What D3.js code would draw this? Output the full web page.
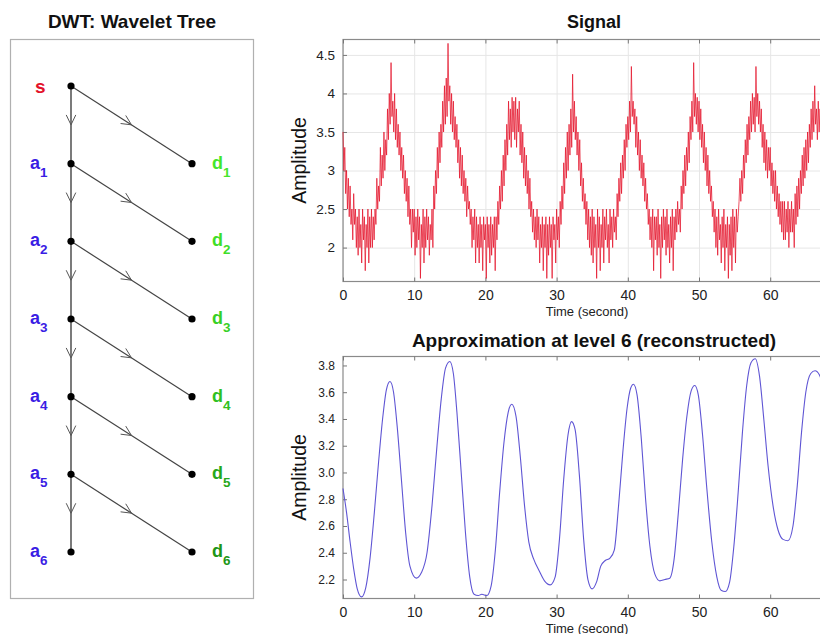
<!DOCTYPE html>
<html>
<head>
<meta charset="utf-8">
<script src="https://cdn.jsdelivr.net/npm/d3@7"></script>
<style>
body{margin:0;background:#fff;}
svg{font-family:"Liberation Sans",Arial,sans-serif;}
</style>
</head>
<body>
<svg id="chart" width="820" height="634"></svg>
<script>
// wavelet tree : levels and colors of the detail labels
var levels=[1,2,3,4,5,6];
var dColors=["#45e62a","#3fde28","#38d024","#30c021","#28a81b","#209616"];

// noisy signal, one value every 0.125 s, one row per second
var signalStep=0.125;
var signal=[
3.5,3.0,3.3,2.7,3.0,2.5,2.9,2.4, 2.8,2.3,2.5,2.1,2.7,2.3,2.5,2.0, 2.4,1.9,2.5,2.0,2.3,1.8,2.5,2.1, 2.4,1.7,2.3,2.0,2.5,1.8,2.4,2.0,
2.5,2.0,2.4,2.1,2.5,2.3,2.9,2.5, 2.8,2.6,3.3,2.8,3.2,2.9,3.5,3.0, 3.4,3.2,3.8,3.4,4.0,3.6,4.4,3.7, 3.9,3.5,4.0,3.4,3.8,3.3,3.6,3.2,
3.5,3.0,3.3,2.9,3.2,2.7,3.0,2.6, 2.9,2.4,2.8,2.3,2.5,2.0,2.5,2.2, 2.5,1.9,2.4,2.0,2.5,2.1,2.4,1.6, 2.3,2.0,2.5,1.8,2.4,2.0,2.5,2.1,
2.4,1.9,2.3,2.1,2.5,2.0,2.8,2.5, 3.0,2.7,3.3,2.9,3.5,3.1,3.6,3.3, 3.9,3.5,4.1,3.6,4.2,3.7,4.65,3.9, 4.1,3.6,4.0,3.5,3.9,3.4,3.7,3.3,
3.6,3.1,3.4,2.9,3.3,2.8,3.2,2.7, 3.0,2.6,2.9,2.4,2.8,2.5,2.6,2.3, 2.5,2.0,2.4,2.1,2.5,1.8,2.4,2.0, 2.3,1.8,2.4,2.0,2.3,1.7,2.4,2.1,
2.3,1.6,2.4,2.0,2.3,1.8,2.4,1.9, 2.3,2.0,2.4,1.7,2.4,2.1,2.6,2.3, 2.8,2.5,3.0,2.6,3.2,2.8,3.4,3.0, 3.6,3.2,3.9,3.4,3.8,3.3,3.95,3.5,
3.9,3.4,3.95,3.3,3.8,3.5,3.9,3.2, 3.6,3.1,3.5,2.9,3.3,2.8,3.2,2.7, 3.0,2.5,2.9,2.4,2.6,2.2,2.5,2.1, 2.4,2.0,2.5,2.1,2.4,1.8,2.3,2.0,
2.4,1.7,2.3,2.0,2.4,1.6,2.3,1.9, 2.4,2.0,2.3,1.6,2.4,2.1,2.3,1.8, 2.5,2.1,2.4,2.0,2.6,2.3,2.8,2.5, 3.1,2.7,3.3,2.9,3.5,3.0,3.6,3.2,
3.8,3.3,4.25,3.5,3.9,3.4,3.7,3.2, 3.5,3.0,3.4,2.8,3.1,2.6,2.9,2.5, 2.7,2.3,2.6,2.1,2.5,2.0,2.4,1.9, 2.5,1.8,2.4,2.0,2.3,1.6,2.5,2.0,
2.4,1.7,2.3,2.0,2.5,1.8,2.4,2.1, 2.5,2.0,2.3,1.8,2.5,2.1,2.4,2.0, 2.5,2.2,2.4,2.1,2.7,2.4,2.9,2.6, 3.1,2.7,3.2,2.9,3.4,3.0,3.6,3.3,
3.7,3.4,3.9,3.5,4.35,3.7,3.9,3.6, 3.8,3.3,3.7,3.2,3.5,3.0,3.4,2.9, 3.2,2.8,3.1,2.6,2.9,2.5,2.7,2.3, 2.5,2.1,2.4,2.0,2.5,1.7,2.4,2.1,
2.4,1.9,2.5,2.0,2.3,1.6,2.4,2.0, 2.5,2.1,2.4,1.9,2.5,2.0,2.3,1.8, 2.4,2.0,2.5,1.7,2.4,2.1,2.5,2.2, 2.6,2.3,2.5,2.2,2.8,2.5,3.0,2.7,
3.2,2.8,3.3,3.0,3.5,3.1,3.7,3.4, 3.9,3.5,4.4,3.7,4.0,3.6,3.95,3.5, 3.9,3.4,3.8,3.3,3.6,3.1,3.5,3.0, 3.3,2.8,3.2,2.7,3.0,2.6,2.8,2.4,
2.6,2.2,2.5,2.0,2.4,1.9,2.5,2.1, 2.3,1.8,2.4,2.0,2.5,1.7,2.3,2.0, 2.4,1.6,2.3,1.9,2.4,1.7,2.5,2.0, 2.4,1.8,2.5,2.2,2.4,2.6,2.9,2.6,
3.0,2.7,3.2,2.9,3.4,3.1,3.6,3.2, 3.7,3.4,3.9,3.5,4.0,3.6,3.95,3.5, 4.35,3.7,4.0,3.6,3.9,3.5,3.8,3.3, 3.6,3.1,3.5,3.0,3.4,2.9,3.3,3.0,
3.3,2.8,3.1,2.7,3.0,2.6,3.0,2.5, 2.8,2.4,2.7,2.3,2.6,2.2,2.6,2.1, 2.6,2.1,2.5,2.2,2.6,2.0,2.5,2.2, 2.6,2.2,2.5,2.0,2.7,2.3,2.8,2.4,
2.9,2.5,3.0,2.7,3.2,2.8,3.3,2.9, 3.4,3.0,3.5,3.1,3.6,3.3,3.8,3.4, 3.9,3.5,4.1,3.6,3.8,3.4,3.9,3.5, 3.8,3.3,3.7,3.2,3.9,3.4,3.6,3.1
];

// level 6 approximation : time (s) and amplitude
var approxTime=[0,0.5,1,1.5,2,2.6,3.2,3.8,4.4,5,5.6,6.1,6.6,7.1,7.6,8.2,8.8,9.4,10.3,11,
11.8,12.5,13.2,13.8,14.4,15,15.5,16,16.6,17.2,17.8,18.4,19,19.5,20.2,20.8,21.4,22,22.6,23.2,
23.7,24.3,24.9,25.5,26.1,26.8,27.6,28.3,29.1,29.8,30.4,31,31.6,32.1,32.6,33.2,33.8,34.4,35,35.6,
36.2,36.8,37.5,38.1,38.7,39.3,39.9,40.4,40.8,41.3,41.9,42.5,43.1,43.8,44.5,45.2,45.9,46.5,47.1,47.7,
48.3,48.9,49.4,49.9,50.5,51.1,51.8,52.5,53.1,53.7,54.3,54.9,55.5,56.1,56.7,57.3,57.9,58.5,59.1,59.7,
60.4,61.1,61.8,62.5,63.2,63.8,64.4,65,65.7,66.3,66.9,67.5,68];
var approxValue=[2.88,2.70,2.48,2.28,2.13,2.07,2.14,2.36,2.70,3.08,3.42,3.62,3.68,3.60,3.35,2.95,2.55,2.30,2.21,2.25,
2.40,2.75,3.20,3.55,3.78,3.83,3.74,3.45,3.00,2.55,2.22,2.09,2.08,2.09,2.08,2.15,2.42,2.85,3.22,3.45,
3.51,3.42,3.12,2.75,2.48,2.35,2.26,2.19,2.16,2.22,2.50,2.95,3.28,3.38,3.32,2.98,2.50,2.20,2.13,2.18,
2.30,2.34,2.36,2.42,2.75,3.15,3.48,3.63,3.66,3.58,3.25,2.80,2.45,2.24,2.19,2.20,2.21,2.35,2.70,3.10,
3.42,3.61,3.65,3.58,3.28,2.88,2.48,2.22,2.12,2.11,2.18,2.45,2.85,3.30,3.65,3.82,3.85,3.72,3.40,3.05,
2.75,2.57,2.50,2.49,2.60,2.90,3.30,3.60,3.74,3.76,3.73,3.62,3.45];

var timeTicks=[0,10,20,30,40,50,60];
var signalTicks=[2,2.5,3,3.5,4,4.5];
var approxTicks=[2.2,2.4,2.6,2.8,3.0,3.2,3.4,3.6,3.8];

var svg=d3.select("#chart");
svg.append("rect").attr("width",820).attr("height",634).style("fill","#fff");

/* ---------- left : the wavelet tree ---------- */
function drawTree(){
    var g=svg.append("g");
    g.append("rect").attr("x",10.5).attr("y",39.5).attr("width",243).attr("height",559)
        .style("fill","#fff").style("stroke","#b0b0b0").style("stroke-width",1.2);
    g.append("text").attr("x",132).attr("y",28).attr("text-anchor","middle")
        .style("font-weight","bold").style("font-size","19px").style("fill","#111")
        .text("DWT: Wavelet Tree");

    var ty=d3.scaleLinear().domain([0,6]).range([86,552]);
    var xa=71, xd=192;

    function chevron(x1,y1,x2,y2){
        var a=Math.atan2(y2-y1,x2-x1);
        var mx=(x1+x2)/2, my=(y1+y2)/2;
        var len=11, spread=0.45;
        var p="M"+(mx-len*Math.cos(a-spread))+","+(my-len*Math.sin(a-spread))
            +"L"+mx+","+my
            +"L"+(mx-len*Math.cos(a+spread))+","+(my-len*Math.sin(a+spread));
        g.append("path").attr("d",p).style("fill","none").style("stroke","#555").style("stroke-width",1);
    }

    levels.forEach(function(l){
        g.append("line").attr("x1",xa).attr("y1",ty(l-1)).attr("x2",xa).attr("y2",ty(l))
            .style("stroke","#333").style("stroke-width",1.3);
        g.append("line").attr("x1",xa).attr("y1",ty(l-1)).attr("x2",xd).attr("y2",ty(l))
            .style("stroke","#444").style("stroke-width",1.2);
        chevron(xa,ty(l-1),xa,ty(l));
        chevron(xa,ty(l-1),xd,ty(l));
    })

    // nodes
    var pts=[[xa,ty(0)]];
    levels.forEach(function(l){ pts.push([xa,ty(l)]); pts.push([xd,ty(l)]); })
    g.selectAll(".node").data(pts).enter().append("circle").attr("class","node")
        .attr("cx",function(d){return d[0]}).attr("cy",function(d){return d[1]})
        .attr("r",3.6).style("fill","#000");

    // labels
    g.append("text").attr("x",35).attr("y",ty(0)+7).style("font-weight","bold")
        .style("font-size","19px").style("fill","#e3122a").text("s");
    levels.forEach(function(l,i){
        var ta=g.append("text").attr("x",30).attr("y",ty(l)+5).style("font-weight","bold")
            .style("font-size","18px").style("fill","#3a1de4");
        ta.append("tspan").text("a");
        ta.append("tspan").attr("dy",8).style("font-size","13.5px").text(l);
        var td=g.append("text").attr("x",212).attr("y",ty(l)+5).style("font-weight","bold")
            .style("font-size","18px").style("fill",dColors[i]);
        td.append("tspan").text("d");
        td.append("tspan").attr("dy",8).style("font-size","13.5px").text(l);
    })
}

/* ---------- right : time plots ---------- */
var x=d3.scaleLinear().domain([0,70]).range([343,841.4]);

function drawPlot(top,bottom,yDomain,yTicks,yFmt,yFont,grid,title,titleY,titleFont){
    var y=d3.scaleLinear().domain(yDomain).range([bottom,top]);
    var g=svg.append("g");
    var h=bottom-top;

    if(grid){
        g.append("g").attr("transform","translate(0,"+bottom+")")
            .call(d3.axisBottom(x).tickValues(timeTicks).tickSize(-h).tickFormat(""))
            .call(function(s){s.select(".domain").remove(); s.selectAll("line").style("stroke","#e6e6e6");});
        g.append("g").attr("transform","translate(343,0)")
            .call(d3.axisLeft(y).tickValues(yTicks).tickSize(-500).tickFormat(""))
            .call(function(s){s.select(".domain").remove(); s.selectAll("line").style("stroke","#e6e6e6");});
    }

    // frame
    g.append("rect").attr("x",343).attr("y",top).attr("width",500).attr("height",h)
        .style("fill","none").style("stroke","#8a8a8a").style("stroke-width",1.2);

    // axes, ticks pointing inside
    g.append("g").attr("transform","translate(0,"+bottom+")")
        .call(d3.axisBottom(x).tickValues(timeTicks).tickSize(-4).tickPadding(9))
        .call(function(s){s.select(".domain").remove();
            s.selectAll("line").style("stroke","#777");
            s.selectAll("text").style("font-size","14px").style("fill","#222").style("font-family","inherit");});
    g.append("g").attr("transform","translate(0,"+top+")")
        .call(d3.axisTop(x).tickValues(timeTicks).tickSize(-4).tickFormat(""))
        .call(function(s){s.select(".domain").remove(); s.selectAll("line").style("stroke","#777");});
    g.append("g").attr("transform","translate(343,0)")
        .call(d3.axisLeft(y).tickValues(yTicks).tickSize(-4).tickPadding(8).tickFormat(d3.format(yFmt)))
        .call(function(s){s.select(".domain").remove();
            s.selectAll("line").style("stroke","#777");
            s.selectAll("text").style("font-size",yFont).style("fill","#222").style("font-family","inherit");});

    g.append("text").attr("transform","translate(306,"+(top+h/2)+") rotate(-90)")
        .attr("text-anchor","middle").style("font-size","19.5px").style("fill","#111").text("Amplitude");
    g.append("text").attr("x",587).attr("y",bottom+34).attr("text-anchor","middle")
        .style("font-size","13px").style("fill","#222").text("Time (second)");
    g.append("text").attr("x",594).attr("y",titleY).attr("text-anchor","middle")
        .style("font-weight","bold").style("font-size",titleFont).style("fill","#111").text(title);
    return y;
}

drawTree();

// signal
var ySig=drawPlot(39.5,281.5,[1.56,4.70],signalTicks,"","13.5px",true,"Signal",28,"18px");
svg.append("path").datum(signal)
    .attr("d",d3.line().x(function(d,i){return x(i*signalStep)}).y(function(d){return ySig(d)}))
    .style("fill","none").style("stroke","#e30c24").style("stroke-width",0.8).style("stroke-opacity",0.9);

// approximation
var yApp=drawPlot(356.5,598.5,[2.058,3.867],approxTicks,".1f","12px",false,"Approximation at level 6 (reconstructed)",347,"19px");
svg.append("path").datum(approxTime)
    .attr("d",d3.line().curve(d3.curveMonotoneX)
        .x(function(d){return x(d)}).y(function(d,i){return yApp(approxValue[i])}))
    .style("fill","none").style("stroke","#5f55d4").style("stroke-width",1.1);
</script>
</body>
</html>
